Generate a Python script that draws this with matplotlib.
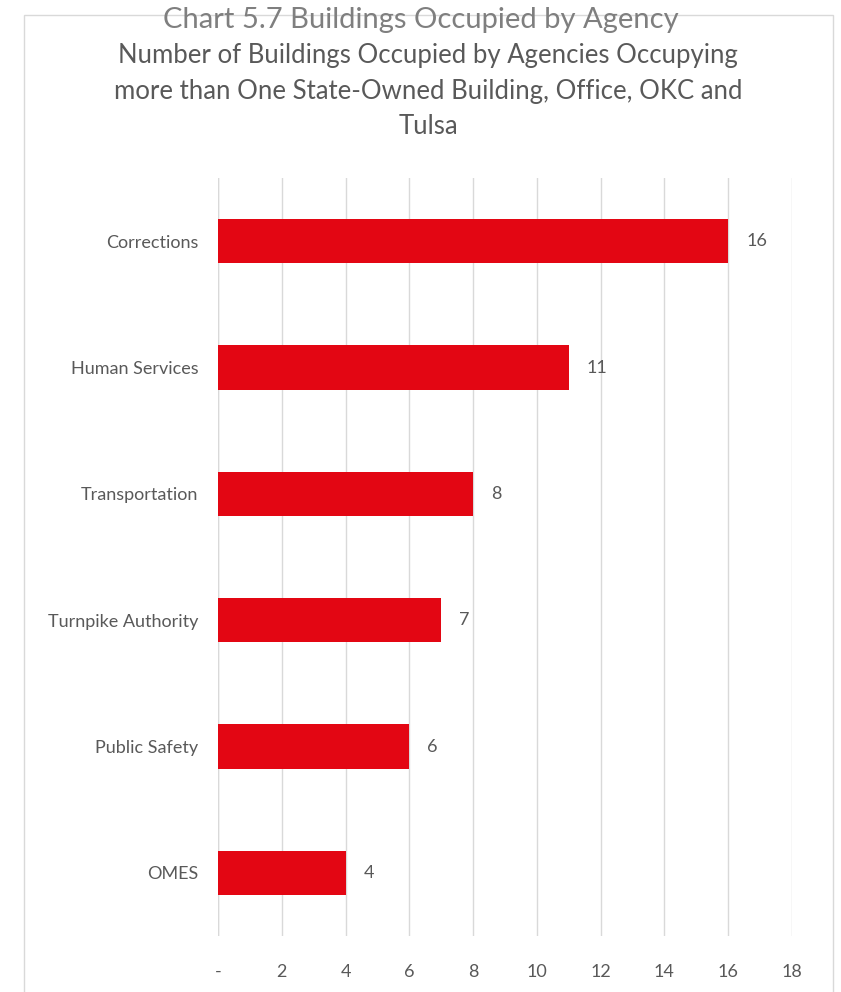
import matplotlib.pyplot as plt
from matplotlib.patches import Rectangle

# data
agencies = ['Corrections', 'Human Services', 'Transportation',
            'Turnpike Authority', 'Public Safety', 'OMES']
buildings = [16, 11, 8, 7, 6, 4]
x_ticks = [0, 2, 4, 6, 8, 10, 12, 14, 16, 18]
x_tick_labels = ['-', '2', '4', '6', '8', '10', '12', '14', '16', '18']

plt.rcParams['font.family'] = ['Lato', 'DejaVu Sans']

W, H = 841, 992
fig = plt.figure(figsize=(W / 100, H / 100), dpi=100)

# light frame around the chart area
fig.patches.append(Rectangle((24 / W, -0.05), (833 - 24) / W, 1.05 - 15 / H,
                             transform=fig.transFigure, fill=False,
                             edgecolor='#d9d9d9', linewidth=1.0, zorder=0))

ax = fig.add_axes([218 / W, 1 - 936 / H, (792 - 218) / W, (936 - 178) / H])

pos = list(range(len(agencies)))
ax.barh(pos, buildings, height=0.35, color='#e30613', zorder=3)
for p, v in zip(pos, buildings):
    ax.annotate(str(v), (v, p), xytext=(13, 0), textcoords='offset points',
                va='center', ha='left', fontsize=13, color='#595959')

ax.set_ylim(len(agencies) - 0.5, -0.5)
ax.set_xlim(0, 18)
ax.set_yticks(pos)
ax.set_yticklabels(agencies, fontsize=13, color='#595959')
ax.set_xticks(x_ticks)
ax.set_xticklabels(x_tick_labels, fontsize=13, color='#595959')
ax.tick_params(axis='both', length=0)
ax.tick_params(axis='y', pad=14)
ax.tick_params(axis='x', pad=20)
ax.grid(axis='x', color='#d9d9d9', linewidth=1.0, zorder=0)
ax.axvline(0, color='#d9d9d9', linewidth=1.0, zorder=1)
for s in ax.spines.values():
    s.set_visible(False)

fig.text(421 / W, 1 - 20 / H, 'Chart 5.7 Buildings Occupied by Agency',
         ha='center', va='center', fontsize=21, color='#7f7f7f')
fig.text(428 / W, 1 - 91 / H,
         'Number of Buildings Occupied by Agencies Occupying\n'
         'more than One State-Owned Building, Office, OKC and\nTulsa',
         ha='center', va='center', fontsize=18.5, color='#595959',
         linespacing=1.55)

fig.savefig('out.png', dpi=100)
